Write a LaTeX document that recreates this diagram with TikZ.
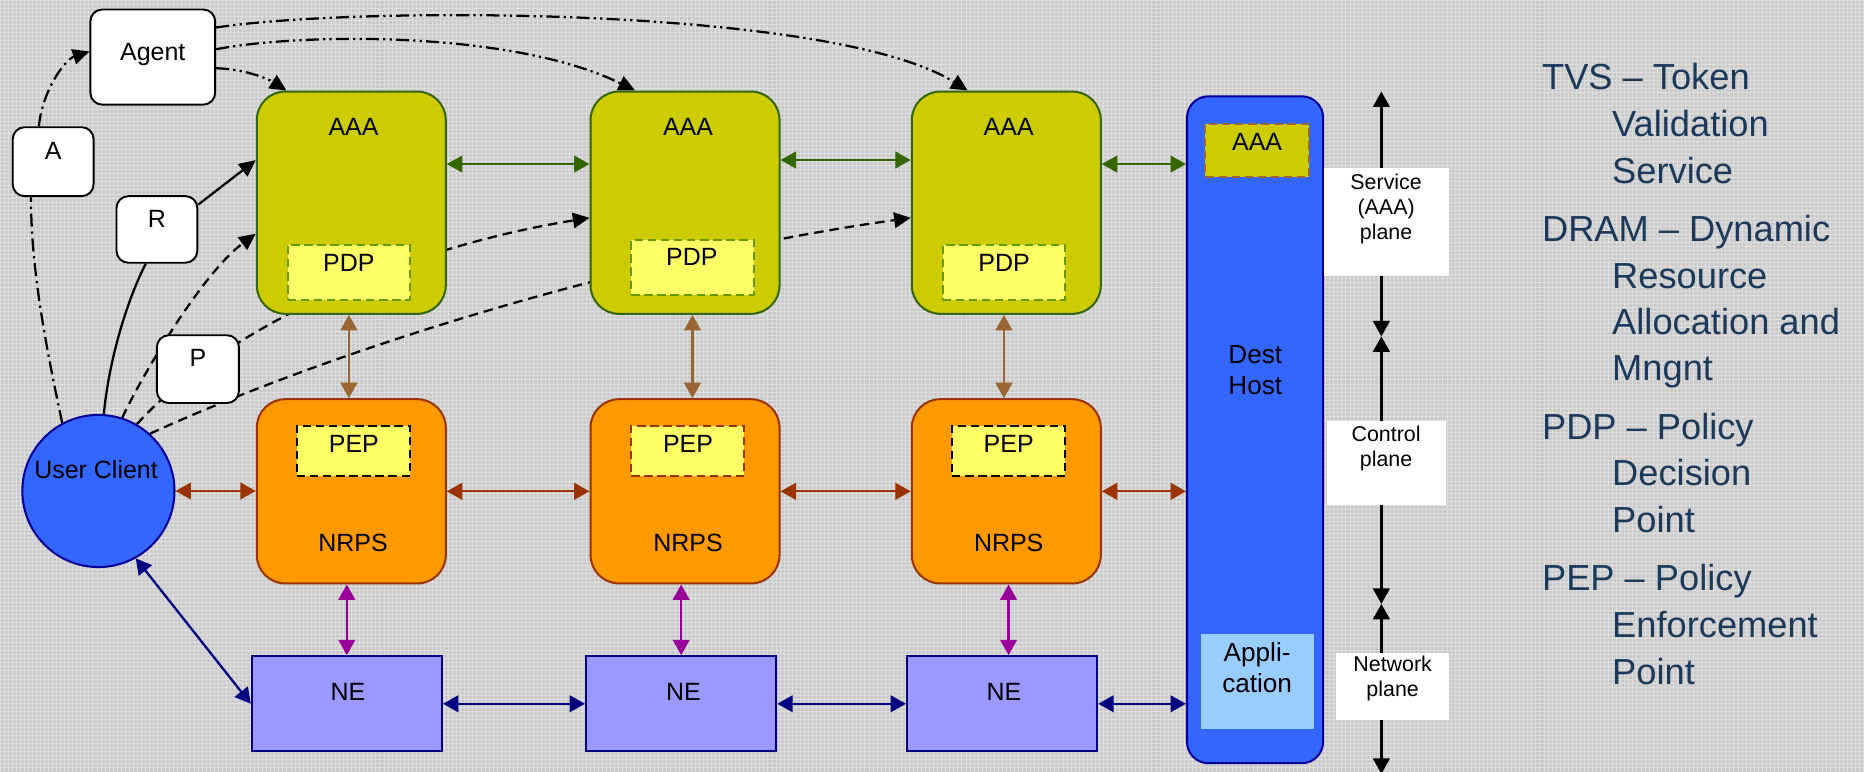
\documentclass[tikz,border=0pt]{standalone}
\usepackage{fontspec}
\setmainfont{Liberation Sans}
\usetikzlibrary{arrows.meta}

\definecolor{bgcol}{RGB}{202,202,202}
\definecolor{gridcol}{RGB}{222,222,222}
\definecolor{aaafill}{RGB}{204,204,0}
\definecolor{aaaline}{RGB}{51,102,0}
\definecolor{pdpline}{RGB}{102,153,0}
\definecolor{pxpfill}{RGB}{255,255,102}
\definecolor{nrpsfill}{RGB}{255,153,0}
\definecolor{nrpsline}{RGB}{153,51,0}
\definecolor{lbrown}{RGB}{153,102,51}
\definecolor{nefill}{RGB}{153,153,255}
\definecolor{navy}{RGB}{0,0,128}
\definecolor{hostfill}{RGB}{51,102,255}
\definecolor{hostline}{RGB}{0,0,153}
\definecolor{appfill}{RGB}{153,204,255}
\definecolor{purp}{RGB}{153,0,153}
\definecolor{legendcol}{RGB}{27,58,90}

\pgfdeclarelayer{bg}
\pgfdeclarelayer{back}
\pgfsetlayers{bg,back,main}

\tikzset{
	labelbox/.style = {
		draw=black,
		fill=white,
		rounded corners=10pt,
		line width=1.6pt,
		inner sep=0pt
	},
	aaanode/.style = {
		draw=aaaline,
		fill=aaafill,
		rounded corners=24pt,
		line width=1.7pt,
		minimum width=159pt,
		minimum height=187pt,
		inner sep=0pt
	},
	nrpsnode/.style = {
		aaanode,
		draw=nrpsline,
		fill=nrpsfill,
		minimum height=155pt
	},
	pdpnode/.style = {
		draw=pdpline,
		fill=pxpfill,
		line width=1.6pt,
		dash pattern=on 7pt off 4pt,
		minimum width=103pt,
		minimum height=46pt,
		inner sep=0pt
	},
	pepnode/.style = {
		pdpnode,
		draw=black,
		minimum width=95pt,
		minimum height=42pt
	},
	nenode/.style = {
		draw=navy,
		fill=nefill,
		line width=1.7pt,
		minimum width=160pt,
		minimum height=80pt,
		inner sep=0pt
	},
	planebox/.style = {
		fill=white,
		inner sep=0pt
	},
	txt/.style = {
		font=\fontsize{21}{25}\selectfont,
		inner sep=0pt,
		text height=15pt,
		text depth=0pt
	},
	hosttxt/.style = {
		font=\fontsize{22}{26}\selectfont,
		inner sep=0pt,
		align=center
	},
	planetxt/.style = {
		font=\fontsize{18}{21}\selectfont,
		inner sep=0pt,
		align=center
	},
	legend/.style = {
		font=\fontsize{30.5}{39}\selectfont,
		text=legendcol,
		inner sep=0pt,
		anchor=base west
	},
	tip/.style = {-{Triangle[length=14pt,width=13pt]}},
	dbl/.style = {
		{Triangle[length=13pt,width=14pt]}-{Triangle[length=13pt,width=14pt]},
		line width=1.9pt
	},
	pdash/.style = {line width=1.9pt, dash pattern=on 8pt off 5pt},
	dashdot/.style = {line width=1.9pt, dash pattern=on 11pt off 4pt on 1.9pt off 4pt},
	dashdotdot/.style = {line width=1.9pt, dash pattern=on 11pt off 3.5pt on 1.9pt off 3.5pt on 1.9pt off 3.5pt}
}

\begin{document}
\begin{tikzpicture}[x=1pt, y=-1pt]
\useasboundingbox (0,0) rectangle (1568,649);
\begin{pgfonlayer}{bg}
\fill[bgcol] (0,0) rectangle (1568,649);
\draw[gridcol, line width=0.8pt, step=3.4pt] (0,0) grid (1568,649);
\end{pgfonlayer}

% client side
\node[circle, draw=hostline, fill=hostfill, line width=1.7pt, minimum size=128pt, inner sep=0pt] (uc) at (82.8,413) {};
\node[txt] (uctxt) at (80.8,394.8) {User Client};
\node[labelbox, minimum width=105pt, minimum height=80pt] (agent) at (128.5,48) {};
\node[txt] (agenttxt) at (128.5,43.5) {Agent};
\node[labelbox, minimum width=68pt, minimum height=58pt] (a) at (44.7,136) {};
\node[txt] (atxt) at (44.7,127) {A};
\node[labelbox, minimum width=68pt, minimum height=56pt] (r) at (132,193) {};
\node[txt] (rtxt) at (132,184) {R};
\node[labelbox, minimum width=69pt, minimum height=57pt] (p) at (166.5,310.5) {};
\node[txt] (ptxt) at (166.5,301) {P};

% service plane
\node[aaanode] (aaa1) at (295.5,170.5) {};
\node[aaanode] (aaa2) at (576.25,170.5) {};
\node[aaanode] (aaa3) at (846.5,170.5) {};
\node[txt] (aaa1txt) at (297.4,106.5) {AAA};
\node[txt] (aaa2txt) at (578.8,106.5) {AAA};
\node[txt] (aaa3txt) at (848.5,106.5) {AAA};
\node[pdpnode] (pdp1) at (293.5,229) {};
\node[pdpnode] (pdp2) at (582.5,225) {};
\node[pdpnode] (pdp3) at (844.5,229) {};
\node[txt] (pdp1txt) at (293.4,220.7) {PDP};
\node[txt] (pdp2txt) at (582,216) {PDP};
\node[txt] (pdp3txt) at (844.6,220.7) {PDP};

% control plane
\node[nrpsnode] (nrps1) at (295.5,413.3) {};
\node[nrpsnode] (nrps2) at (576.25,413.3) {};
\node[nrpsnode] (nrps3) at (846.5,413.3) {};
\node[pepnode] (pep1) at (297.3,379.2) {};
\node[pepnode, draw=nrpsline] (pep2) at (578.5,379.2) {};
\node[pepnode] (pep3) at (848.4,379.2) {};
\node[txt] (pep1txt) at (297.7,373) {PEP};
\node[txt] (pep2txt) at (578.8,373) {PEP};
\node[txt] (pep3txt) at (848.5,373) {PEP};
\node[txt] (nrps1txt) at (297,456) {NRPS};
\node[txt] (nrps2txt) at (578.8,456) {NRPS};
\node[txt] (nrps3txt) at (848.5,456) {NRPS};

% network plane
\node[nenode] (ne1) at (291.75,592) {};
\node[nenode] (ne2) at (573,592) {};
\node[nenode] (ne3) at (843,592) {};
\node[txt] (ne1txt) at (292.7,581.8) {NE};
\node[txt] (ne2txt) at (575,581.8) {NE};
\node[txt] (ne3txt) at (844.6,581.8) {NE};

% destination host
\node[draw=hostline, fill=hostfill, rounded corners=18pt, line width=1.7pt, minimum width=114.5pt, minimum height=561pt, inner sep=0pt] (dest) at (1055.75,361.5) {};
\node[draw=lbrown, fill=aaafill, line width=1.6pt, dash pattern=on 7pt off 4pt, minimum width=87pt, minimum height=45pt, inner sep=0pt] (destaaa) at (1057.5,126.5) {};
\node[txt] (destaaatxt) at (1057.5,119.5) {AAA};
\node[fill=appfill, minimum width=95pt, minimum height=80pt, inner sep=0pt] (app) at (1057.5,573) {};
\node[hosttxt] (apptxt) at (1057.5,561.5) {Appli-\\cation};
\node[hosttxt] (desttxt) at (1056,311) {Dest\\Host};

% plane labels
\node[planebox, minimum width=105pt, minimum height=91pt] (svcbox) at (1166.5,186.5) {};
\node[planetxt] (svctxt) at (1166,176) {Service\\(AAA)\\plane};
\node[planebox, minimum width=100pt, minimum height=71pt] (ctlbox) at (1166,389.5) {};
\node[planetxt] (ctltxt) at (1166,377) {Control\\plane};
\node[planebox, minimum width=95pt, minimum height=57pt] (netbox) at (1171.5,577.5) {};
\node[planetxt] (nettxt) at (1171.5,570.5) {Network\\plane};

\coordinate (rowa) at (0,138);
\coordinate (rowb) at (0,134.6);
\coordinate (ax0) at (1162,77);
\coordinate (ax1) at (1162,283);
\coordinate (ax2) at (1162,508);
\coordinate (ax3) at (1162,651);

% links between planes and domains
\draw[dbl, aaaline] (aaa1.east |- rowa) -- (aaa2.west |- rowa);
\draw[dbl, aaaline] (aaa2.east |- rowb) -- (aaa3.west |- rowb);
\draw[dbl, aaaline] (aaa3.east |- rowa) -- (dest.west |- rowa);
\draw[dbl, nrpsline] (uc.east) -- (nrps1.west |- uc.east);
\draw[dbl, nrpsline] (nrps1.east) -- (nrps2.west);
\draw[dbl, nrpsline] (nrps2.east) -- (nrps3.west);
\draw[dbl, nrpsline] (nrps3.east) -- (dest.west |- nrps3.east);
\draw[dbl, navy] (ne1.east) -- (ne2.west);
\draw[dbl, navy] (ne2.east) -- (ne3.west);
\draw[dbl, navy] (ne3.east) -- (dest.west |- ne3.east);
\draw[dbl, navy] (uc.-61) -- (ne1.west);
\draw[dbl, lbrown] (aaa1.south -| pdp1) -- (nrps1.north -| pdp1);
\draw[dbl, lbrown] (aaa2.south -| pdp2) -- (nrps2.north -| pdp2);
\draw[dbl, lbrown] (aaa3.south -| pdp3) -- (nrps3.north -| pdp3);
\draw[dbl, purp] (nrps1.south -| ne1) -- (ne1.north);
\draw[dbl, purp] (nrps2.south -| ne2) -- (ne2.north);
\draw[dbl, purp] (nrps3.south -| pep3) -- (ne3.north -| pep3);

\begin{pgfonlayer}{back}
% plane axis
\draw[dbl, line width=2pt] (ax0) -- (ax1);
\draw[dbl, line width=2pt] (ax1) -- (ax2);
\draw[dbl, line width=2pt] (ax2) -- (ax3);
% signalling from the client
\draw[dashdot] (uc.118) .. controls (36,280) and (26,220) .. (a.238);
\draw[dashdot, tip] (a.112) .. controls (36,75) and (55,50) .. (agent.175);
\draw[line width=1.9pt] (uc.86) .. controls (92,300) and (108,250) .. (r.252);
\draw[line width=1.9pt, tip] (r.31) -- (aaa1.156);
\draw[pdash, tip] (uc.72) .. controls (120,315) and (170,230) .. (aaa1.198);
\draw[pdash, tip] (uc.60) .. controls (165,300) and (300,215) .. (aaa2.189);
\draw[pdash, tip] (uc.48) .. controls (290,290) and (540,215) .. (aaa3.189);
\draw[dashdotdot, tip] (agent.-10) .. controls (205,58) and (225,66) .. (aaa1.120);
\draw[dashdotdot, tip] (agent.7) .. controls (250,28) and (430,25) .. (aaa2.114);
\draw[dashdotdot, tip] (agent.25) .. controls (300,5) and (700,5) .. (aaa3.109);
\end{pgfonlayer}

% legend
\foreach \xx/\yy/\t [count=\i] in {
	1297/75.6/{TVS \textendash{} Token},
	1356/114.7/Validation,
	1356/154/Service,
	1297/203.3/{DRAM \textendash{} Dynamic},
	1356/242.3/Resource,
	1356/281.7/{Allocation and},
	1356/320/Mngnt,
	1297/369.3/{PDP \textendash{} Policy},
	1356/408.3/Decision,
	1356/447.7/Point,
	1297/496.9/{PEP \textendash{} Policy},
	1356/536.3/Enforcement,
	1356/575.4/Point}
	\node[legend] (leg\i) at (\xx,\yy) {\t};
\end{tikzpicture}
\end{document}
